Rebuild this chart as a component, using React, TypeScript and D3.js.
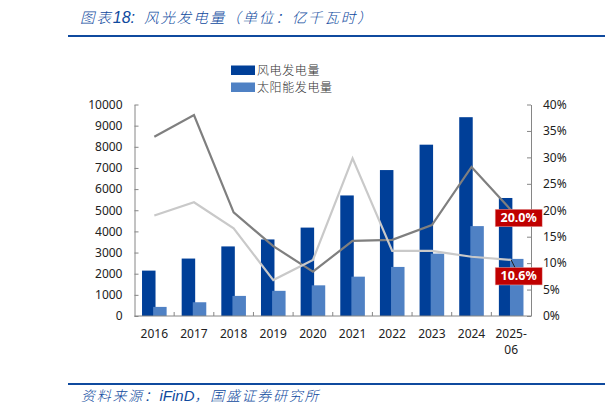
import React, { useEffect, useRef } from 'react';
import * as d3 from 'd3';

const years = ['2016', '2017', '2018', '2019', '2020', '2021', '2022', '2023', '2024', '2025-06'];
const windPower = [2146, 2716, 3290, 3620, 4180, 5700, 6900, 8100, 9400, 5580];
const solarPower = [430, 650, 950, 1190, 1450, 1860, 2320, 2950, 4250, 2700];
const windGrowth = [33.9, 38, 19.6, 13.2, 8.4, 14.2, 14.4, 17.2, 28.2, 20.0];
const solarGrowth = [19, 21.5, 16.6, 6.8, 10.6, 29.8, 12.3, 12.3, 11.2, 10.6];
const leftTicks = [0, 1000, 2000, 3000, 4000, 5000, 6000, 7000, 8000, 9000, 10000];
const rightTicks = [0, 5, 10, 15, 20, 25, 30, 35, 40];
const legendNames = ['风电发电量', '太阳能发电量'];

const BLUE = '#003f98';
const LIGHT_BLUE = '#4f81c4';
const AXIS = '#868686';
const HEAD = '#0f4a9e';
const CJK = '"Noto Sans CJK SC", sans-serif';
const NUM = '"Noto Sans", sans-serif';
const LATIN = '"Liberation Sans", sans-serif';

const App: React.FC = () => {
  const ref = useRef<SVGSVGElement>(null);

  useEffect(() => {
    if (!ref.current) return;
    d3.select(ref.current).selectAll('*').remove();
    const svg = d3.select(ref.current);

    const margin = { top: 104.5, left: 134.5, right: 531, bottom: 316 };

    const x = d3.scaleBand<string>().domain(years).range([margin.left, margin.right]);
    const y = d3.scaleLinear().domain([0, 10000]).range([margin.bottom, margin.top]);
    const y2 = d3.scaleLinear().domain([0, 40]).range([margin.bottom, margin.top]);
    const barW = 13.5;

    // Header and footer
    const title = svg.append('text').attr('x', 80).attr('y', 23)
      .attr('font-family', CJK).attr('font-size', 14.5).attr('font-style', 'italic')
      .attr('font-weight', 300).attr('letter-spacing', 1.9).attr('fill', HEAD);
    title.append('tspan').text('图表');
    title.append('tspan').attr('font-family', LATIN).attr('font-size', 16).attr('letter-spacing', 0).text('18:');
    title.append('tspan').attr('dx', 9).text('风光发电量（单位：亿千瓦时）');
    svg.append('line').attr('x1', 68).attr('x2', 605).attr('y1', 36).attr('y2', 36)
      .attr('stroke', HEAD).attr('stroke-width', 2);
    svg.append('line').attr('x1', 68).attr('x2', 605).attr('y1', 384).attr('y2', 384)
      .attr('stroke', HEAD).attr('stroke-width', 2);
    const source = svg.append('text').attr('x', 81).attr('y', 401)
      .attr('font-family', CJK).attr('font-size', 14).attr('font-style', 'italic')
      .attr('font-weight', 300).attr('letter-spacing', 1.7).attr('fill', HEAD);
    source.append('tspan').text('资料来源：');
    source.append('tspan').attr('font-family', LATIN).attr('font-size', 15).attr('letter-spacing', 0).text('iFinD');
    source.append('tspan').text('，国盛证券研究所');

    // Legend
    [BLUE, LIGHT_BLUE].forEach((c, i) => {
      svg.append('rect').attr('x', 231).attr('y', 65.5 + i * 17).attr('width', 24).attr('height', 9.5).attr('fill', c);
      svg.append('text').attr('x', 257).attr('y', 74.5 + i * 17)
        .attr('font-family', CJK).attr('font-size', 12).attr('font-weight', 300).attr('letter-spacing', 0.6).attr('fill', '#333')
        .text(legendNames[i]);
    });

    // Bars
    svg.selectAll('rect.wind').data(windPower).enter().append('rect').attr('class', 'wind')
      .attr('x', (_, i) => (x(years[i]) as number) + x.bandwidth() / 2 - barW + 1.2)
      .attr('y', d => y(d)).attr('width', barW).attr('height', d => y(0) - y(d)).attr('fill', BLUE);
    svg.selectAll('rect.solar').data(solarPower).enter().append('rect').attr('class', 'solar')
      .attr('x', (_, i) => (x(years[i]) as number) + x.bandwidth() / 2 - 1.2)
      .attr('y', d => y(d)).attr('width', barW).attr('height', d => y(0) - y(d)).attr('fill', LIGHT_BLUE);

    // Growth lines
    const line = d3.line<number>()
      .x((_, i) => (x(years[i]) as number) + x.bandwidth() / 2)
      .y(d => y2(d));
    svg.append('path').datum(windGrowth).attr('fill', 'none').attr('stroke', '#7f7f7f')
      .attr('stroke-width', 2.2).attr('d', line);
    svg.append('path').datum(solarGrowth).attr('fill', 'none').attr('stroke', '#c9c9c9')
      .attr('stroke-width', 2.2).attr('d', line);

    // Axes
    const left = svg.append('g').attr('transform', `translate(${margin.left},0)`)
      .call(d3.axisLeft(y).tickValues(leftTicks).tickFormat(d3.format('d')).tickSize(-4).tickSizeOuter(0));
    const right = svg.append('g').attr('transform', `translate(${margin.right},0)`)
      .call(d3.axisRight(y2).tickValues(rightTicks).tickFormat(d => `${d}%`).tickSize(-4).tickSizeOuter(0));
    [left, right].forEach(g => {
      g.selectAll('text').attr('font-family', NUM).attr('font-size', 12).attr('fill', '#222');
      g.selectAll('line').attr('stroke', AXIS);
      g.select('.domain').attr('stroke', AXIS);
    });
    left.selectAll('text').attr('x', -12);
    right.selectAll('text').attr('x', 12);

    const bottom = svg.append('g').attr('transform', `translate(0,${margin.bottom})`);
    bottom.append('line').attr('x1', margin.left).attr('x2', margin.right).attr('stroke', AXIS);
    years.forEach((yr, i) => {
      const x0 = x(yr) as number;
      if (i > 0) bottom.append('line').attr('x1', x0).attr('x2', x0).attr('y1', 0).attr('y2', -4).attr('stroke', AXIS);
      const parts = yr === '2025-06' ? ['2025-', '06'] : [yr];
      parts.forEach((p, j) => {
        bottom.append('text').attr('x', x0 + x.bandwidth() / 2).attr('y', 22 + j * 16)
          .attr('text-anchor', 'middle').attr('font-family', NUM).attr('font-size', 12).attr('fill', '#222').text(p);
      });
    });

    // Callouts on the last point
    const lastX = (x(years[9]) as number) + x.bandwidth() / 2;
    const callouts = [
      { value: windGrowth[9], dy: 7.5 },
      { value: solarGrowth[9], dy: 16 },
    ];
    callouts.forEach(c => {
      const py = y2(c.value);
      svg.append('line').attr('x1', lastX).attr('y1', py).attr('x2', lastX + 8).attr('y2', py + c.dy)
        .attr('stroke', '#222').attr('stroke-width', 1);
      svg.append('rect').attr('x', lastX - 16).attr('y', py + c.dy - 8.5).attr('width', 47).attr('height', 17.5)
        .attr('fill', '#c00000').attr('stroke', '#e8b0b0').attr('stroke-width', 0.5);
      svg.append('text').attr('x', lastX + 7.5).attr('y', py + c.dy + 4.5).attr('text-anchor', 'middle')
        .attr('font-family', NUM).attr('font-size', 12.5).attr('font-weight', 700).attr('fill', '#fff')
        .text(`${c.value.toFixed(1)}%`);
    });
  }, []);

  return <svg ref={ref} width={605} height={415} style={{ position: 'absolute', left: 0, top: 0 }} />;
};

export default App;
